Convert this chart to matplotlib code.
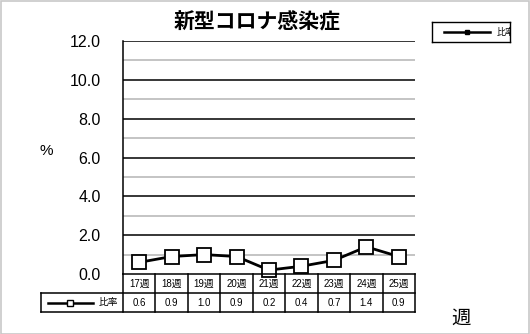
import matplotlib
matplotlib.use("Agg")
import matplotlib.pyplot as plt
from matplotlib.lines import Line2D
from matplotlib.patches import Rectangle

plt.rcParams["font.family"] = ["Liberation Sans", "Noto Sans CJK JP", "DejaVu Sans"]

TITLE = "新型コロナ感染症"
WEEKS = ["17週", "18週", "19週", "20週", "21週", "22週", "23週", "24週", "25週"]
RATIO = [0.6, 0.9, 1.0, 0.9, 0.2, 0.4, 0.7, 1.4, 0.9]
SERIES_LABEL = "比率"
Y_TICKS = [0, 2, 4, 6, 8, 10, 12]

W, H = 530, 334
fig = plt.figure(figsize=(W / 100, H / 100), dpi=100)


def px(x0, y0, x1, y1):
    # pixel box (top-left origin) -> figure fraction rect
    return [x0 / W, 1 - y1 / H, (x1 - x0) / W, (y1 - y0) / H]


# outer border
fig.patches.append(Rectangle((0.5 / W, 0.5 / H), 1 - 1.5 / W, 1 - 1.5 / H,
                             transform=fig.transFigure, fill=False,
                             ec="#c8c8c8", lw=1.2))

ax = fig.add_axes(px(123, 41, 415, 274))
n = len(WEEKS)
x = list(range(n))
ax.set_xlim(-0.5, n - 0.5)
ax.set_ylim(0, 12)
for v in range(1, 13):
    ax.axhline(v, color="black" if v % 2 == 0 else "#b4b4b4", lw=1.1, zorder=1)
ax.plot(x, RATIO, color="black", lw=2, marker="s", ms=10.5,
        mfc="white", mec="black", mew=1.3, zorder=3, clip_on=False)
for s in ("top", "right", "bottom"):
    ax.spines[s].set_visible(False)
ax.spines["left"].set_linewidth(1.1)
ax.set_xticks([])
ax.set_yticks(Y_TICKS)
ax.set_yticklabels([f"{v:.1f}" for v in Y_TICKS], fontsize=11.5)
ax.tick_params(axis="y", length=0, pad=16)

# data table under the plot
tax = fig.add_axes(px(41, 274, 415, 312))
left = -0.5 - 82 / (292 / n)
tax.set_xlim(left, n - 0.5)
tax.set_ylim(0, 2)
tax.axis("off")
kw = dict(color="black", lw=1.1, clip_on=False)
tax.plot([-0.5, n - 0.5], [2, 2], **kw)
tax.plot([left, n - 0.5], [1, 1], **kw)
tax.plot([left, n - 0.5], [0, 0], **kw)
tax.plot([left, left], [0, 1], **kw)
for i in range(n + 1):
    tax.plot([i - 0.5, i - 0.5], [0, 2], **kw)
for i in range(n):
    tax.text(i, 1.5, WEEKS[i], ha="center", va="center", fontsize=7)
    tax.text(i, 0.5, f"{RATIO[i]:.1f}", ha="center", va="center", fontsize=7)
tax.add_line(Line2D([left + 0.22, left + 1.6], [0.5, 0.5], color="black", lw=1.8))
tax.plot([left + 0.9], [0.5], marker="s", ms=5, mfc="white", mec="black", mew=1)
tax.text(-0.5 - 0.45, 0.5, SERIES_LABEL, ha="center", va="center", fontsize=7)

# legend box (top right, label cut off by the box)
lax = fig.add_axes(px(432, 22, 510, 42))
lax.set_xlim(0, 78)
lax.set_ylim(0, 20)
lax.set_xticks([])
lax.set_yticks([])
for s in lax.spines.values():
    s.set_linewidth(1)
lax.plot([12, 58], [10, 10], color="black", lw=1.8)
lax.plot([35], [10], marker="s", ms=3, color="black")
lax.text(65, 10, SERIES_LABEL, ha="left", va="center", fontsize=6.5, clip_on=True)

fig.text(257 / W, 1 - 22 / H, TITLE, ha="center", va="center",
         fontsize=15, fontweight="bold", family=["Noto Sans CJK JP"])
fig.text(46 / W, 1 - 151 / H, "%", ha="center", va="center", fontsize=11)
fig.text(461 / W, 1 - 318 / H, "週", ha="center", va="center", fontsize=14,
         family=["Noto Sans CJK JP"])

fig.savefig("out.png", dpi=100)
